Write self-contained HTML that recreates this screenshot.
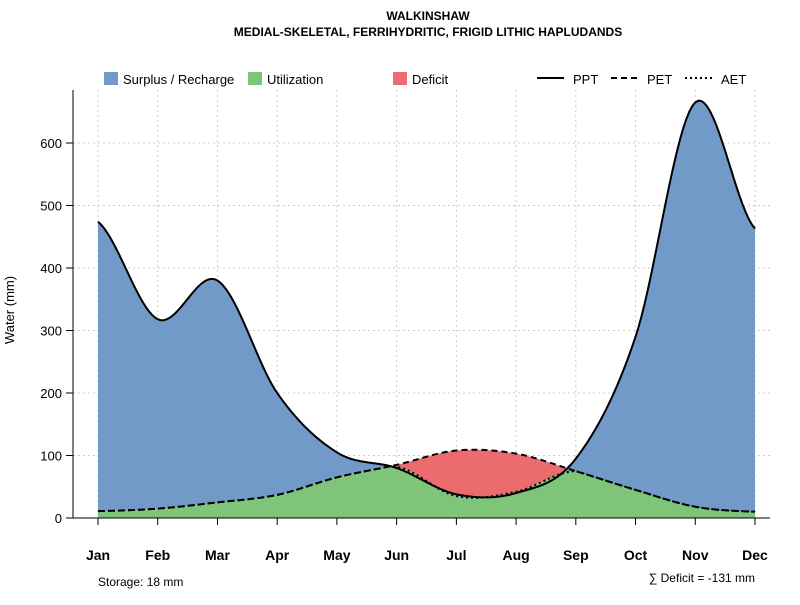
<!DOCTYPE html>
<html><head><meta charset="utf-8"><style>
body{margin:0;background:#fff;font-family:"Liberation Sans",sans-serif}
</style></head><body>
<svg id="chart" width="800" height="600" xmlns="http://www.w3.org/2000/svg" font-family="Liberation Sans, sans-serif">
<text x="428" y="20" text-anchor="middle" font-size="12" font-weight="bold">WALKINSHAW</text>
<text x="428" y="36" text-anchor="middle" font-size="12" font-weight="bold">MEDIAL-SKELETAL, FERRIHYDRITIC, FRIGID LITHIC HAPLUDANDS</text>
<g id="grid"></g><g id="areas"></g><g id="lines"></g><g id="axes"></g>
<g font-size="13">
<rect x="104" y="72" width="14" height="13" fill="#729ac8"/><text x="123" y="84">Surplus / Recharge</text>
<rect x="248" y="72" width="14" height="13" fill="#7ec57a"/><text x="267" y="84">Utilization</text>
<rect x="393" y="72" width="14" height="13" fill="#ec6b6e"/><text x="412" y="84">Deficit</text>
<line x1="537" y1="78" x2="564" y2="78" stroke="#000" stroke-width="2"/><text x="573" y="84">PPT</text>
<line x1="611" y1="78" x2="638" y2="78" stroke="#000" stroke-width="2" stroke-dasharray="6,4"/><text x="647" y="84">PET</text>
<line x1="685" y1="78" x2="712" y2="78" stroke="#000" stroke-width="2" stroke-dasharray="2,3"/><text x="721" y="84">AET</text>
</g>
<text transform="translate(14,310) rotate(-90)" text-anchor="middle" font-size="13">Water (mm)</text>
<text x="98" y="586" font-size="12">Storage: 18 mm</text>
<text x="755" y="582" text-anchor="end" font-size="12">∑ Deficit = -131 mm</text>
</svg>
<script>
const months=["Jan","Feb","Mar","Apr","May","Jun","Jul","Aug","Sep","Oct","Nov","Dec"];
const ppt=[474,318,380,200,105,80,38,40,95,290,665,463];
const pet=[11,15,25,37,65,85,108,103,75,45,18,10];
const aet=[11,15,25,37,65,82,35,42,75,45,18,10];
const yTicks=[0,100,200,300,400,500,600];
const NS="http://www.w3.org/2000/svg";
const X=i=>98+i*(755-98)/11, Y=v=>518-v*0.625;
function mk(t,a,p){const e=document.createElementNS(NS,t);for(const k in a)e.setAttribute(k,a[k]);p.appendChild(e);return e;}
function sample(arr){const out=[];const n=arr.length;for(let i=0;i<n-1;i++){const p0=arr[Math.max(i-1,0)],p1=arr[i],p2=arr[i+1],p3=arr[Math.min(i+2,n-1)];for(let s=0;s<20;s++){const t=s/20,t2=t*t,t3=t2*t;out.push([i+t,0.5*(2*p1+(-p0+p2)*t+(2*p0-5*p1+4*p2-p3)*t2+(-p0+3*p1-3*p2+p3)*t3)]);}}out.push([n-1,arr[n-1]]);return out;}
const sp=sample(ppt),se=sample(pet),sa=sample(aet).map((d,i)=>[d[0],Math.min(d[1],se[i][1])]);
const grid=document.getElementById('grid'),areas=document.getElementById('areas'),lines=document.getElementById('lines'),axes=document.getElementById('axes');
months.forEach((m,i)=>{const g=mk('line',{x1:X(i),x2:X(i),y1:90,y2:518,stroke:'#ccc','stroke-dasharray':'2,3'},grid);});
yTicks.forEach(v=>{const g=mk('line',{x1:73,x2:770,y1:Y(v),y2:Y(v),stroke:'#ccc','stroke-dasharray':'2,3'},grid);});
function area(s,fill,name){const d='M'+X(0)+','+Y(0)+s.map(p=>'L'+X(p[0])+','+Y(p[1])).join('')+'L'+X(11)+','+Y(0)+'Z';const e=mk('path',{d,fill},areas);}
area(se,'#ec6b6e','deficit-area');area(sp,'#729ac8','surplus-area');area(sa,'#7ec57a','utilization-area');
function line(s,dash,name){const d=s.map((p,i)=>(i?'L':'M')+X(p[0])+','+Y(p[1])).join('');const e=mk('path',{d,fill:'none',stroke:'#000','stroke-width':2,'stroke-dasharray':dash},lines);}
line(sa,'2,3','aet-line');line(se,'6,4','pet-line');line(sp,'none','ppt-line');
mk('line',{x1:73,x2:73,y1:90,y2:518,stroke:'#000'},axes);
mk('line',{x1:73,x2:770,y1:518,y2:518,stroke:'#000'},axes);
yTicks.forEach(v=>{mk('line',{x1:66,x2:73,y1:Y(v),y2:Y(v),stroke:'#000'},axes);const t=mk('text',{x:62,y:Y(v)+5,'text-anchor':'end','font-size':13},axes);t.textContent=v;});
months.forEach((m,i)=>{mk('line',{x1:X(i),x2:X(i),y1:518,y2:525,stroke:'#000'},axes);const t=mk('text',{x:X(i),y:560,'text-anchor':'middle','font-size':14,'font-weight':'bold'},axes);t.textContent=m;});
</script>
</body></html>
